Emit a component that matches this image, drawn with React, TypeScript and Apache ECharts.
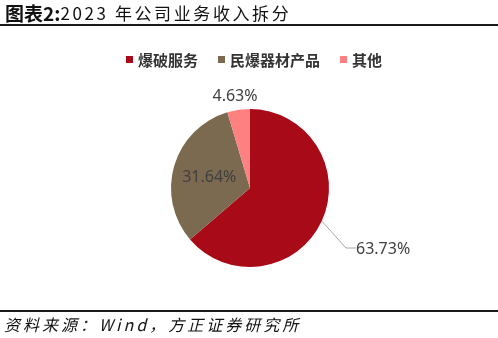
import React, { useEffect, useRef } from 'react';
import * as echarts from 'echarts';

const categories = ['爆破服务', '民爆器材产品', '其他'];
const shares = [63.73, 31.64, 4.63];
const colors = ['#A80A17', '#7B6A50', '#FF8080'];
const titleLead = '图表2:';
const titleMain = '2023 年公司业务收入拆分';
const sourceNote = '资料来源：Wind，方正证券研究所';

export default function App() {
  const ref = useRef<HTMLDivElement>(null);
  useEffect(() => {
    if (!ref.current) return;
    const chart = echarts.init(ref.current, undefined, { renderer: 'svg' });
    const labelPos: any[] = [
      { position: 'outside' },
      { position: 'inside' },
      { position: 'outside' },
    ];
    chart.setOption({
      animation: false,
      title: {
        text: `{b|${titleLead}}{n|${titleMain}}`,
        left: 5,
        top: 3,
        padding: 0,
        textStyle: {
          rich: {
            b: { fontSize: 19, lineHeight: 18, fontWeight: 'bold', color: '#111', fontFamily: 'Noto Sans CJK SC' },
            n: { fontSize: 17, lineHeight: 18, fontWeight: 'normal', color: '#111', fontFamily: 'Noto Sans CJK SC' },
          },
        },
      },
      legend: {
        data: categories,
        top: 47,
        left: 121,
        icon: 'rect',
        itemWidth: 7,
        itemHeight: 7,
        itemGap: 20,
        textStyle: { fontSize: 15, fontWeight: 'bold', color: '#333', fontFamily: 'Noto Sans CJK SC' },
      },
      graphic: [
        { type: 'line', shape: { x1: 0, y1: 25, x2: 498, y2: 25 }, style: { stroke: '#1a1a1a', lineWidth: 2 } },
        { type: 'line', shape: { x1: 0, y1: 311, x2: 498, y2: 311 }, style: { stroke: '#1a1a1a', lineWidth: 2 } },
        {
          type: 'text',
          x: 4,
          y: 324,
          style: {
            text: sourceNote,
            fontSize: 16,
            fontStyle: 'italic',
            fontFamily: 'Noto Sans CJK SC',
            fill: '#111',
            verticalAlign: 'middle',
          },
        },
      ],
      series: [
        {
          type: 'pie',
          center: [250, 188],
          radius: 79,
          startAngle: 90,
          clockwise: true,
          avoidLabelOverlap: false,
          silent: true,
          itemStyle: { borderWidth: 0 },
          label: {
            formatter: (p: any) => p.value.toFixed(2) + '%',
            fontSize: 16,
            color: '#404040',
            fontFamily: 'Noto Sans',
          },
          labelLine: { lineStyle: { color: '#A6A6A6', width: 1 }, length: 20, length2: 10 },
          labelLayout: (p: any) => {
            if (p.dataIndex === 0) return { x: 356, y: 248, align: 'left', verticalAlign: 'middle' };
            if (p.dataIndex === 2) return { x: 235, y: 95, align: 'center', verticalAlign: 'middle' };
            return {};
          },
          data: categories.map((name, i) => ({
            name,
            value: shares[i],
            itemStyle: { color: colors[i] },
            label: labelPos[i],
            labelLine: { show: i === 0 },
          })),
        },
      ],
    });
    const applySpacing = () => {
      const root = ref.current;
      if (!root) return;
      root.querySelectorAll('text').forEach((t) => {
        const s = t.textContent || '';
        if (s === titleMain) t.setAttribute('letter-spacing', '2.6');
        if (s === sourceNote) t.setAttribute('letter-spacing', '3');
      });
    };
    applySpacing();
    chart.on('finished', applySpacing);
    return () => chart.dispose();
  }, []);
  return <div ref={ref} style={{ position: 'fixed', left: 0, top: 0, width: 498, height: 338 }} />;
}
